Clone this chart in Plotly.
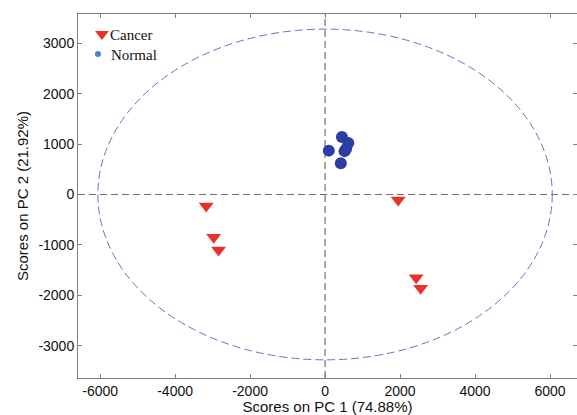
import plotly.graph_objects as go

# PCA scores (PC1, PC2)
cancer_pc1 = [-3170, -2970, -2840, 1950, 2430, 2550]
cancer_pc2 = [-230, -850, -1100, -110, -1650, -1860]
normal_pc1 = [100, 450, 620, 560, 520, 420]
normal_pc2 = [870, 1140, 1020, 900, 860, 620]

# 95% confidence ellipse semi-axes
ellipse_a = 6060
ellipse_b = 3280

x_ticks = [-6000, -4000, -2000, 0, 2000, 4000, 6000]
y_ticks = [-3000, -2000, -1000, 0, 1000, 2000, 3000]

RED = "#e8302c"
BLUE = "#2b3ea3"

fig = go.Figure()

fig.add_shape(type="circle", xref="x", yref="y",
              x0=-ellipse_a, x1=ellipse_a, y0=-ellipse_b, y1=ellipse_b,
              line=dict(color="#7070c0", width=1, dash="8px,4px"), layer="below")
fig.add_shape(type="line", xref="x", yref="paper", x0=0, x1=0, y0=0, y1=1,
              line=dict(color="#707070", width=1.2, dash="7px,4px"), layer="below")
fig.add_shape(type="line", xref="paper", yref="y", x0=0, x1=1, y0=0, y1=0,
              line=dict(color="#707070", width=1.2, dash="7px,4px"), layer="below")

fig.add_trace(go.Scatter(x=cancer_pc1, y=cancer_pc2, mode="markers", showlegend=False,
                         marker=dict(symbol="triangle-down", size=13, color=RED)))
fig.add_trace(go.Scatter(x=normal_pc1, y=normal_pc2, mode="markers", showlegend=False,
                         marker=dict(symbol="circle", size=12, color=BLUE)))

# legend: symbols on an overlay axis in [0, 1] units, labels as annotations
fig.add_trace(go.Scatter(x=[0.048], y=[0.945], xaxis="x2", yaxis="y2", mode="markers",
                         showlegend=False, hoverinfo="skip",
                         marker=dict(symbol="triangle-down", size=12, color=RED)))
fig.add_trace(go.Scatter(x=[0.040], y=[0.890], xaxis="x2", yaxis="y2", mode="markers",
                         showlegend=False, hoverinfo="skip",
                         marker=dict(symbol="circle", size=6, color="#4a7fd0")))
legend_font = dict(family="Liberation Serif", size=15, color="#111")
fig.add_annotation(text="Cancer", xref="paper", yref="paper", x=0.060, y=0.943,
                   xanchor="left", yanchor="middle", showarrow=False, font=legend_font)
fig.add_annotation(text="Normal", xref="paper", yref="paper", x=0.062, y=0.888,
                   xanchor="left", yanchor="middle", showarrow=False, font=legend_font)

tick_font = dict(family="Liberation Sans", size=14, color="#111")
title_font = dict(family="Liberation Sans", size=15, color="#111")
axis_common = dict(showline=True, linecolor="#808080", linewidth=1, mirror="ticks",
                   ticks="inside", ticklen=4, tickcolor="#808080", showgrid=False,
                   zeroline=False, tickfont=tick_font, title_font=title_font)

fig.update_xaxes(range=[-6590, 6720], tickvals=x_ticks,
                 ticktext=[str(v) for v in x_ticks],
                 title=dict(text="Scores on PC 1 (74.88%)", standoff=1), **axis_common)
fig.update_yaxes(range=[-3640, 3580], tickvals=y_ticks,
                 ticktext=[str(v) for v in y_ticks],
                 title=dict(text="Scores on PC 2 (21.92%)", standoff=6), **axis_common)

fig.update_layout(
    width=577, height=415,
    margin=dict(l=78, r=0, t=14, b=37),
    plot_bgcolor="white", paper_bgcolor="white",
    showlegend=False,
    xaxis2=dict(overlaying="x", range=[0, 1], visible=False, fixedrange=True),
    yaxis2=dict(overlaying="y", range=[0, 1], visible=False, fixedrange=True),
)

fig.write_html("out.html")
